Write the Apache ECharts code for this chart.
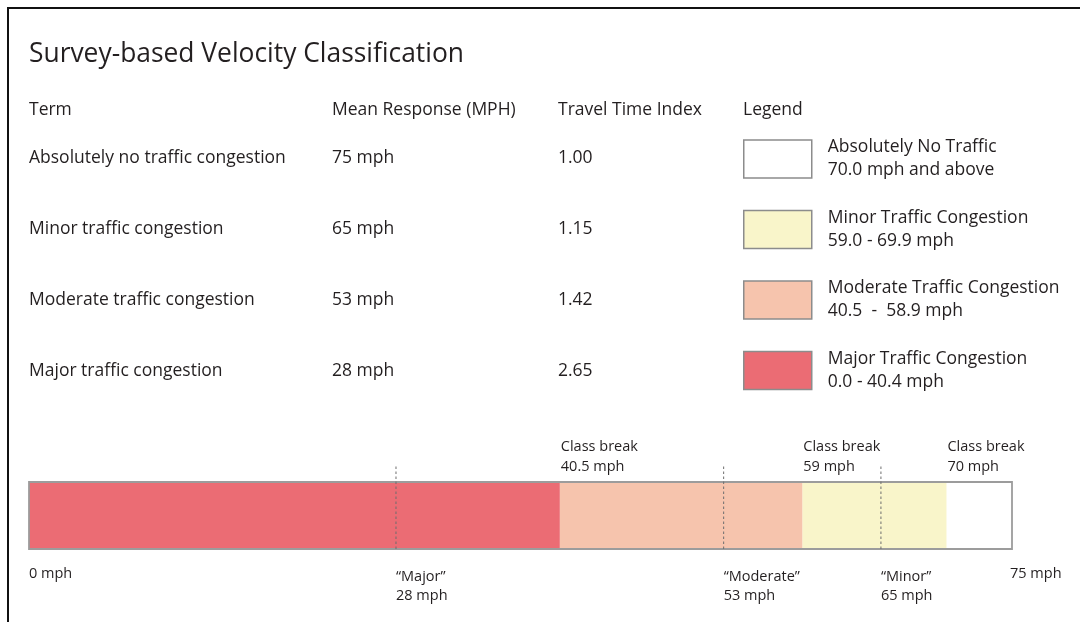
<!DOCTYPE html>
<html>
<head>
<meta charset="utf-8">
<script src="https://cdn.jsdelivr.net/npm/echarts@6/dist/echarts.min.js"></script>
<style>
  html, body { margin: 0; padding: 0; background: #fff; }
  #chart { width: 1080px; height: 622px; }
</style>
</head>
<body>
<div id="chart"></div>
<script>
// table rows
const terms = ['Absolutely no traffic congestion', 'Minor traffic congestion', 'Moderate traffic congestion', 'Major traffic congestion']
const meanResponse = ['75 mph', '65 mph', '53 mph', '28 mph']
const travelTimeIndex = ['1.00', '1.15', '1.42', '2.65']

// classes (legend + scale bar)
const classNames = ['Absolutely No Traffic', 'Minor Traffic Congestion', 'Moderate Traffic Congestion', 'Major Traffic Congestion']
const classRanges = ['70.0 mph and above', '59.0 - 69.9 mph', '40.5  -  58.9 mph', '0.0 - 40.4 mph']
const classColors = ['#ffffff', '#f9f5ca', '#f6c4ad', '#eb6c74']
const classStart = [70, 59, 40.5, 0]
const classEnd = [75, 70, 59, 40.5]

// class breaks and mean responses on the bar
const breaks = [40.5, 59, 70]
const breakLabels = ['40.5 mph', '59 mph', '70 mph']
const means = [28, 53, 65]
const meanNames = ['\u201cMajor\u201d', '\u201cModerate\u201d', '\u201cMinor\u201d']
const meanLabels = ['28 mph', '53 mph', '65 mph']
const scaleMin = 0
const scaleMax = 75

const FONT = "'Open Sans', 'Noto Sans', sans-serif"
const INK = '#231f20'
const BODY = 17.5
const SMALL = 14.5
const Y_TOP = 83 / 67   // dashed lines poke above the bar

const chart = echarts.init(document.getElementById('chart'))

function segItem(params, api) {
    const p0 = api.coord([api.value(0), 0])
    const p1 = api.coord([api.value(1), 1])
    return {
        type: 'rect',
        shape: { x: p0[0], y: p1[1], width: p1[0] - p0[0], height: p0[1] - p1[1] },
        style: api.style({ stroke: null })
    }
}

const segSeries = classNames.map((name, i) => ({
    type: 'custom',
    name,
    renderItem: segItem,
    itemStyle: { color: classColors[i] },
    encode: { x: [0, 1] },
    data: [[classStart[i], classEnd[i]]],
    silent: true
}))

const txt = (text, x, y, size) => ({
    type: 'text', x, y,
    style: { text, fill: INK, font: `${size}px ${FONT}`, textVerticalAlign: 'middle' }
})

const frame = {
    type: 'polyline',
    shape: { points: [[8, 622], [8, 8], [1080, 8]] },
    style: { stroke: '#111', lineWidth: 2, fill: null }
}

const rowY = [158, 229, 300, 371]
const staticText = [
    txt('Survey-based Velocity Classification', 29, 54, 26.4),
    txt('Term', 29, 110, BODY),
    txt('Mean Response (MPH)', 332, 110, BODY),
    txt('Travel Time Index', 558, 110, BODY),
    txt('Legend', 743, 110, BODY),
]
terms.forEach((t, i) => {
    staticText.push(txt(t, 29, rowY[i], BODY))
    staticText.push(txt(meanResponse[i], 332, rowY[i], BODY))
    staticText.push(txt(travelTimeIndex[i], 558, rowY[i], BODY))
})

chart.setOption({
    animation: false,
    textStyle: { fontFamily: FONT },
    grid: { left: 29, right: 68, top: 466, height: 83 },
    xAxis: { type: 'value', min: scaleMin, max: scaleMax, show: false },
    yAxis: { type: 'value', min: 0, max: Y_TOP, show: false },
    legend: {
        data: classNames,
        orient: 'vertical',
        left: 743,
        top: 136,
        padding: 0,
        icon: 'rect',
        itemWidth: 68,
        itemHeight: 38,
        itemGap: 24.5,
        selectedMode: false,
        itemStyle: { borderColor: '#8c8c8c', borderWidth: 1.5 },
        formatter: name => name + '\n' + classRanges[classNames.indexOf(name)],
        textStyle: { fontSize: BODY, lineHeight: 23, color: INK, padding: [0, 0, 0, 11], fontFamily: FONT }
    },
    series: [
        ...segSeries,
        {
            type: 'custom',
            name: 'outline',
            silent: true,
            encode: { x: [0, 1] },
            data: [[scaleMin, scaleMax]],
            renderItem: (params, api) => {
                const p0 = api.coord([api.value(0), 0])
                const p1 = api.coord([api.value(1), 1])
                return {
                    type: 'rect',
                    shape: { x: p0[0], y: p1[1], width: p1[0] - p0[0], height: p0[1] - p1[1] },
                    style: { fill: null, stroke: '#9c9c9c', lineWidth: 1.8 }
                }
            }
        },
        {
            type: 'custom',
            name: 'means',
            silent: true,
            encode: { x: 0 },
            data: means.map(v => [v]),
            z: 5,
            renderItem: (params, api) => {
                const a = api.coord([api.value(0), 0])
                const b = api.coord([api.value(0), Y_TOP])
                return {
                    type: 'line',
                    shape: { x1: a[0], y1: a[1], x2: b[0], y2: b[1] },
                    style: { stroke: '#6e6e6e', lineWidth: 1, lineDash: [2.5, 2.5] }
                }
            }
        }
    ],
    graphic: [frame, ...staticText]
})

// labels around the scale bar, placed through the axis scale
const px = v => chart.convertToPixel({ gridIndex: 0 }, [v, 0])[0]
const barLabels = []
breaks.forEach((b, i) => {
    barLabels.push(txt('Class break', px(b) + 1, 447, SMALL))
    barLabels.push(txt(breakLabels[i], px(b) + 1, 467, SMALL))
})
means.forEach((m, i) => {
    barLabels.push(txt(meanNames[i], px(m), 577, SMALL))
    barLabels.push(txt(meanLabels[i], px(m), 596, SMALL))
})
barLabels.push(txt('0 mph', px(scaleMin), 574, SMALL))
barLabels.push(txt('75 mph', px(scaleMax) - 2, 574, SMALL))

chart.setOption({
    graphic: [frame, ...staticText, ...barLabels]
}, { replaceMerge: ['graphic'] })
</script>
</body>
</html>
